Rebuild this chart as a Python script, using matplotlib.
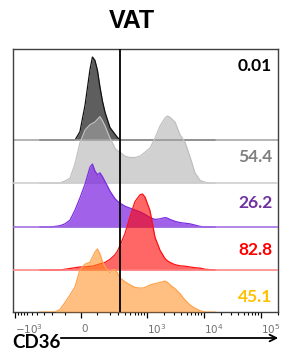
import matplotlib
matplotlib.use("Agg")
import matplotlib.pyplot as plt
from matplotlib.ticker import FixedLocator

# ---- data ----
cd36 = [-354, -284, -225, -175, -134, -97, -64, -34, -6, 23, 52, 67, 83, 100, 118, 137,
        159, 204, 230, 258, 290, 323, 402, 497, 612, 753, 833, 924, 1133, 1389, 1701,
        2083, 2304, 2551, 3122, 3822, 4676, 5726, 7000, 8568, 10500, 12840, 15710]

black = [0, 0, 0, 0, 0, 0, 0, 0, 0.10, 0.42, 0.85, 1.0, 0.96, 0.84, 0.64, 0.47,
         0.33, 0.15, 0.11, 0.07, 0.03, 0, 0, 0, 0, 0, 0, 0, 0, 0, 0,
         0, 0, 0, 0, 0, 0, 0, 0, 0, 0, 0, 0]
gray = [0, 0, 0, 0, 0, 0.03, 0.07, 0.29, 0.60, 0.79, 0.87, 0.89, 0.91, 0.95, 0.99, 0.93,
        0.85, 0.67, 0.60, 0.52, 0.48, 0.46, 0.40, 0.38, 0.38, 0.40, 0.43, 0.46, 0.52, 0.67, 0.85,
        0.97, 1.0, 0.98, 0.91, 0.72, 0.61, 0.39, 0.15, 0.04, 0.01, 0, 0]
purple = [0, 0, 0, 0.01, 0.02, 0.05, 0.11, 0.27, 0.46, 0.68, 0.95, 1.0, 0.89, 0.83, 0.86, 0.80,
          0.72, 0.57, 0.51, 0.45, 0.41, 0.38, 0.33, 0.30, 0.27, 0.24, 0.22, 0.20, 0.15, 0.12, 0.13,
          0.15, 0.14, 0.12, 0.09, 0.07, 0.06, 0.05, 0.03, 0.01, 0, 0, 0]
red = [0, 0, 0, 0, 0, 0.01, 0.02, 0.03, 0.04, 0.04, 0.05, 0.05, 0.06, 0.07, 0.08, 0.09,
       0.10, 0.14, 0.17, 0.20, 0.25, 0.32, 0.48, 0.70, 0.90, 0.99, 1.0, 0.96, 0.78, 0.43, 0.26,
       0.15, 0.12, 0.10, 0.07, 0.055, 0.05, 0.04, 0.03, 0.025, 0.01, 0.005, 0]
orange = [0, 0, 0, 0, 0.04, 0.15, 0.27, 0.40, 0.67, 0.76, 0.79, 0.87, 0.95, 1.0, 0.92, 0.80,
          0.72, 0.62, 0.67, 0.67, 0.62, 0.54, 0.48, 0.43, 0.39, 0.38, 0.38, 0.39, 0.43, 0.45, 0.47,
          0.49, 0.47, 0.43, 0.37, 0.29, 0.19, 0.11, 0.06, 0.02, 0, 0, 0]

series_values = [black, gray, purple, red, orange]
percent_labels = ["0.01", "54.4", "26.2", "82.8", "45.1"]
gate_value = 323
major_ticks = [-1000, 0, 1000, 10000, 100000]
major_labels = ["$-10^{3}$", "$0$", "$10^{3}$", "$10^{4}$", "$10^{5}$"]
minor_ticks = ([-v for v in range(100, 1000, 100)] + list(range(100, 1000, 100)) +
               list(range(2000, 10000, 1000)) + list(range(20000, 100000, 10000)) + [200000])

# ---- styling ----
baselines = [172, 129, 85, 42, 0]
peaks = [83, 67, 63, 76, 63]
fills = ["#555555", "#acacac", "#7a1fe0", "#ff0000", "#ff8c1a"]
alphas = [0.95, 0.55, 0.70, 0.60, 0.55]
edges = ["#111111", "#c0c0c0", "#7b2fe0", "#ff1010", "#ffa24a"]
basecols = ["#a0a0a0", "#cccccc", "#9b66e0", "#ff8080", None]
textcols = ["#000000", "#808080", "#7030a0", "#ff0000", "#ffc000"]

fig = plt.figure(figsize=(2.83, 3.6), dpi=100)
ax = fig.add_axes([13 / 283, 48 / 360, 265 / 283, 263 / 360])
ax.set_xscale("asinh", linear_width=140)
ax.set_xlim(-1087, 200300)
ax.set_ylim(0, 263)

for i, vals in enumerate(series_values):
    b = baselines[i]
    top = [b + v * peaks[i] for v in vals]
    ax.fill_between(cd36, b, top, color=fills[i], alpha=alphas[i], lw=0, zorder=2 + i)
    ax.plot(cd36, top, color=edges[i], lw=0.9, zorder=2 + i)
    if basecols[i]:
        ax.axhline(b, color=basecols[i], lw=1.1, zorder=2 + i)

ax.axvline(gate_value, color="black", lw=1.3, zorder=20)

text_y = [66, 157, 203, 250, 297]
for i, lab in enumerate(percent_labels):
    ax.text(0.978, (312 - text_y[i]) / 263, lab, transform=ax.transAxes, ha="right",
            va="center", fontsize=12.5, fontweight="bold", color=textcols[i],
            family="Lato", zorder=30)

ax.xaxis.set_major_locator(FixedLocator(major_ticks))
ax.xaxis.set_minor_locator(FixedLocator(minor_ticks))
ax.set_xticklabels(major_labels)
ax.tick_params(axis="x", which="major", length=4, width=0.9, color="black",
               labelsize=7.5, labelcolor="#707070", pad=3)
ax.tick_params(axis="x", which="minor", length=2.5, width=0.8, color="black")
for lab in ax.get_xticklabels():
    lab.set_horizontalalignment("left")
ax.set_yticks([])
for s in ax.spines.values():
    s.set_color("#404040")
    s.set_linewidth(1.0)

fig.text(132 / 283, 1 - 21 / 360, "VAT", ha="center", va="center", fontsize=18,
         fontweight="bold", family="Liberation Sans")
fig.text(12 / 283, 1 - 343 / 360, "CD36", ha="left", va="center", fontsize=13.5,
         fontweight="bold", family="Lato")
fig.patches.append(matplotlib.patches.FancyArrowPatch(
    (58 / 283, 1 - 338 / 360), (281 / 283, 1 - 338 / 360), transform=fig.transFigure,
    arrowstyle="->", mutation_scale=12, lw=1.3, color="black"))

fig.savefig("out.png", dpi=100)
